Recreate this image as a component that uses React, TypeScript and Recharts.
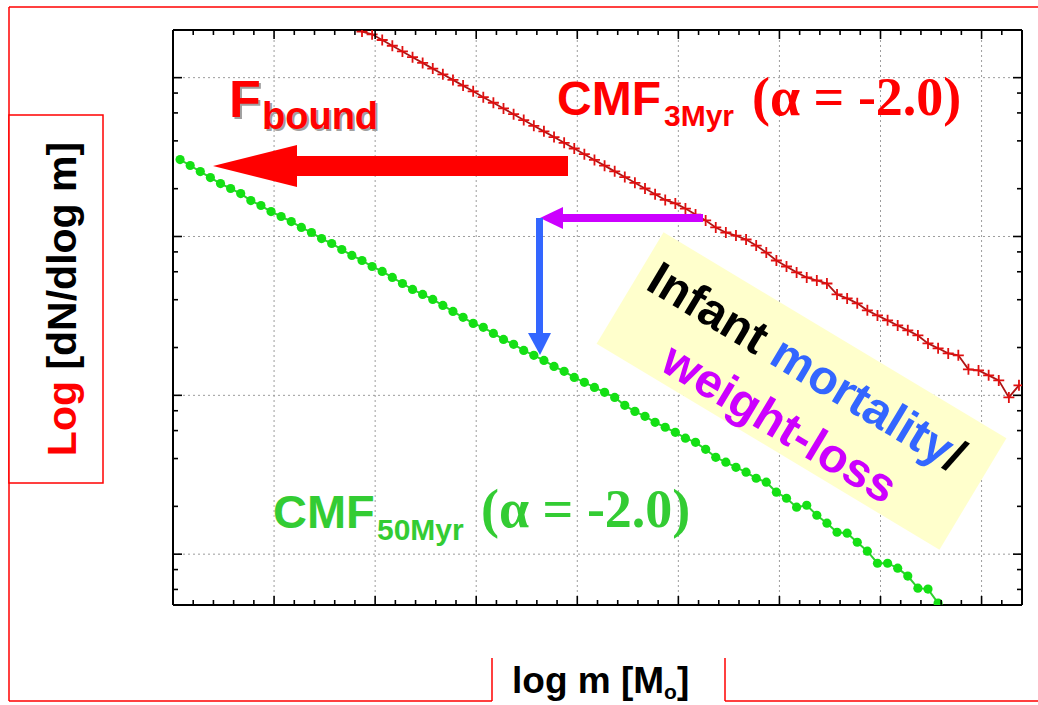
import React from 'react';
import { LineChart, Line, XAxis, YAxis, CartesianGrid } from 'recharts';

// log m bin centres shared by both mass functions
const LOG_M = [
  2.035, 2.085, 2.135, 2.185, 2.235, 2.285, 2.335, 2.385, 2.435, 2.485,
  2.535, 2.585, 2.635, 2.685, 2.735, 2.785, 2.835, 2.885, 2.935, 2.985,
  3.035, 3.085, 3.135, 3.185, 3.235, 3.285, 3.335, 3.385, 3.435, 3.485,
  3.535, 3.585, 3.635, 3.685, 3.735, 3.785, 3.835, 3.885, 3.935, 3.985,
  4.035, 4.085, 4.135, 4.185, 4.235, 4.285, 4.335, 4.385, 4.435, 4.485,
  4.535, 4.585, 4.635, 4.685, 4.735, 4.785, 4.835, 4.885, 4.935, 4.985,
  5.035, 5.085, 5.135, 5.185, 5.235, 5.285, 5.335, 5.385, 5.435, 5.485,
  5.535, 5.585, 5.635, 5.685, 5.735, 5.785, 5.835, 5.885, 5.935, 5.985,
  6.035, 6.085, 6.135, 6.185,
];

// log dN/dlog m at 50 Myr, starting from the first bin
const CMF_50MYR = [
  2.484, 2.447, 2.409, 2.371, 2.333, 2.302, 2.270, 2.226, 2.195, 2.157,
  2.126, 2.094, 2.057, 2.025, 1.987, 1.956, 1.918, 1.881, 1.849, 1.811,
  1.780, 1.742, 1.704, 1.667, 1.635, 1.604, 1.566, 1.528, 1.491, 1.453,
  1.428, 1.390, 1.352, 1.321, 1.283, 1.252, 1.220, 1.182, 1.151, 1.113,
  1.082, 1.050, 1.019, 0.987, 0.937, 0.899, 0.868, 0.830, 0.799, 0.767,
  0.730, 0.704, 0.660, 0.610, 0.579, 0.547, 0.516, 0.478, 0.453, 0.390,
  0.352, 0.296, 0.308, 0.245, 0.195, 0.138, 0.132, 0.075, 0.019, -0.057,
  -0.057, -0.088, -0.138, -0.214, -0.220, -0.308,
];

// log dN/dlog m at 3 Myr, starting from bin RED_START
const RED_START = 18;
const CMF_3MYR = [
  3.290, 3.273, 3.237, 3.201, 3.165, 3.129, 3.093, 3.057, 3.021, 2.986,
  2.950, 2.914, 2.877, 2.842, 2.806, 2.770, 2.733, 2.697, 2.662, 2.626,
  2.590, 2.554, 2.518, 2.482, 2.446, 2.410, 2.374, 2.338, 2.302, 2.266,
  2.230, 2.208, 2.176, 2.138, 2.101, 2.057, 2.025, 2.006, 1.981, 1.943,
  1.899, 1.849, 1.811, 1.774, 1.742, 1.723, 1.704, 1.635, 1.610, 1.579,
  1.535, 1.503, 1.472, 1.440, 1.409, 1.377, 1.327, 1.296, 1.264, 1.252,
  1.164, 1.157, 1.126, 1.094, 0.987, 1.063,
];

const X_MAJOR = [2.5, 3, 3.5, 4, 4.5, 5, 5.5, 6];
const X_MINOR = [
  2.1, 2.2, 2.3, 2.4, 2.6, 2.7, 2.8, 2.9, 3.1, 3.2, 3.3, 3.4, 3.6, 3.7, 3.8, 3.9,
  4.1, 4.2, 4.3, 4.4, 4.6, 4.7, 4.8, 4.9, 5.1, 5.2, 5.3, 5.4, 5.6, 5.7, 5.8, 5.9, 6.1,
];
const Y_MAJOR = [0, 1, 2, 3];
// 2, 4, 6, 8 x 10^k on the log axis
const Y_MINOR = [
  -0.222, -0.097, 0.301, 0.602, 0.778, 0.903, 1.301, 1.602, 1.778, 1.903,
  2.301, 2.602, 2.778, 2.903,
];

const X_DOMAIN = [2, 6.2];
const Y_DOMAIN = [-0.32, 3.3];

const green = CMF_50MYR.map((v, i) => ({ m: LOG_M[i], v }));
const red = CMF_3MYR.map((v, i) => ({ m: LOG_M[i + RED_START], v }));

const SANS = '"Liberation Sans", Arial, sans-serif';
const SERIF = '"Liberation Serif", "Times New Roman", serif';

// inward-pointing frame ticks, longer on the majors
function FrameTick({ x, y, payload, side, majors }: any) {
  const len = majors.includes(payload.value) ? 9 : 5;
  let x2 = x;
  let y2 = y;
  if (side === 'left') x2 = x + len;
  if (side === 'right') x2 = x - len;
  if (side === 'bottom') y2 = y - len;
  if (side === 'top') y2 = y + len;
  return <line x1={x} y1={y} x2={x2} y2={y2} stroke="#000" strokeWidth={1.6} />;
}

const plusDot = (p: any) => (
  <path
    key={`p-${p.index}`}
    d={`M${p.cx - 5.5},${p.cy}H${p.cx + 5.5}M${p.cx},${p.cy - 5.5}V${p.cy + 5.5}`}
    stroke="#e01010"
    strokeWidth={1.8}
    fill="none"
  />
);

const frameLine = { stroke: '#000', strokeWidth: 2 };

// axes take 1px of room each so recharts still draws them
const axisCommon = {
  allowDataOverflow: true,
  interval: 0 as const,
  tickSize: 0,
  tickMargin: 0,
  axisLine: frameLine,
  tickLine: false,
};

export default function App() {
  return (
    <div style={{ position: 'absolute', left: 0, top: 0, width: 1038, height: 705, background: '#fff' }}>
      <LineChart width={1038} height={705} margin={{ top: 29, right: 15, bottom: 99, left: 172 }}>
        <CartesianGrid
          xAxisId="b"
          yAxisId="l"
          stroke="#9c9c9c"
          strokeDasharray="2 3"
          horizontalValues={Y_MAJOR}
          verticalValues={X_MAJOR}
        />
        <XAxis
          {...axisCommon}
          xAxisId="b"
          type="number"
          dataKey="m"
          domain={X_DOMAIN}
          ticks={[...X_MAJOR, ...X_MINOR]}
          height={1}
          tick={(p: any) => <FrameTick {...p} side="bottom" majors={X_MAJOR} />}
        />
        <XAxis
          {...axisCommon}
          xAxisId="t"
          orientation="top"
          type="number"
          dataKey="m"
          domain={X_DOMAIN}
          ticks={[...X_MAJOR, ...X_MINOR]}
          height={1}
          tick={(p: any) => <FrameTick {...p} side="top" majors={X_MAJOR} />}
        />
        <YAxis
          {...axisCommon}
          yAxisId="l"
          type="number"
          domain={Y_DOMAIN}
          ticks={[...Y_MAJOR, ...Y_MINOR]}
          width={1}
          tick={(p: any) => <FrameTick {...p} side="left" majors={Y_MAJOR} />}
        />
        <YAxis
          {...axisCommon}
          yAxisId="r"
          orientation="right"
          type="number"
          domain={Y_DOMAIN}
          ticks={[...Y_MAJOR, ...Y_MINOR]}
          width={1}
          tick={(p: any) => <FrameTick {...p} side="right" majors={Y_MAJOR} />}
        />
        <Line
          xAxisId="b"
          yAxisId="l"
          data={green}
          dataKey="v"
          type="linear"
          stroke="#30d030"
          strokeWidth={2}
          dot={{ r: 4.6, fill: '#14e014', stroke: 'none' }}
          isAnimationActive={false}
        />
        <Line
          xAxisId="b"
          yAxisId="l"
          data={red}
          dataKey="v"
          type="linear"
          stroke="#b01515"
          strokeWidth={1.8}
          dot={plusDot}
          isAnimationActive={false}
        />
      </LineChart>

      <svg
        width={1038}
        height={705}
        style={{ position: 'absolute', left: 0, top: 0, pointerEvents: 'none' }}
        fontFamily={SANS}
        fontWeight="bold"
      >
        {/* outer frame, broken where the x label sits */}
        <g stroke="#ff0000" strokeWidth={1.5} fill="none">
          <line x1={9} y1={7} x2={1038} y2={7} />
          <line x1={9} y1={7} x2={9} y2={701} />
          <line x1={9} y1={701} x2={492} y2={701} />
          <line x1={725} y1={701} x2={1038} y2={701} />
          <line x1={492} y1={658} x2={492} y2={701} />
          <line x1={725} y1={658} x2={725} y2={701} />
        </g>

        {/* y label box */}
        <rect x={9} y={115} width={94} height={368} fill="#fff" stroke="#ff0000" strokeWidth={1.5} />
        <text transform="translate(76,299) rotate(-90)" textAnchor="middle" fontSize={41}>
          <tspan fill="#ff0000">Log</tspan>
          <tspan fill="#000"> [dN/dlog m]</tspan>
        </text>

        {/* x label */}
        <text x={512} y={693} fontSize={37} fill="#000">
          log m [M<tspan fontSize={21} dy={6}>o</tspan>
          <tspan dy={-6}>]</tspan>
        </text>

        {/* F_bound with its shadow and arrow */}
        <g fill="#a0a0a0">
          <text x={231} y={119} fontSize={52}>F</text>
          <text x={264} y={131} fontSize={38}>bound</text>
        </g>
        <g fill="#ff0000">
          <text x={229} y={117} fontSize={52}>F</text>
          <text x={262} y={129} fontSize={38}>bound</text>
        </g>
        <polygon
          points="213,166 297,145 297,156 568,156 568,176 297,176 297,187"
          fill="#ff0000"
        />

        {/* CMF 3 Myr */}
        <g fill="#ff0000">
          <text x={557} y={115} fontSize={48}>CMF</text>
          <text x={664} y={126} fontSize={30}>3Myr</text>
          <text x={752} y={115} fontSize={54} fontFamily={SERIF}>(α = -2.0)</text>
        </g>

        {/* CMF 50 Myr */}
        <g fill="#33cc33">
          <text x={273} y={528} fontSize={47}>CMF</text>
          <text x={377} y={540} fontSize={30}>50Myr</text>
          <text x={481} y={527} fontSize={54} fontFamily={SERIF}>(α = -2.0)</text>
        </g>

        {/* weight-loss arrow then infant-mortality arrow */}
        <rect x={560} y={214} width={143} height={8} fill="#cc00ff" />
        <polygon points="540,218 563,207 563,229" fill="#cc00ff" />
        <rect x={536} y={218} width={7} height={117} fill="#3366ff" />
        <polygon points="528,333 551,333 540,355" fill="#3366ff" />

        {/* rotated note */}
        <g transform="translate(801.5,391) rotate(31)">
          <rect x={-200} y={-65} width={400} height={130} fill="#ffffcc" />
          <text x={-8} y={-7} textAnchor="middle" fontSize={48}>
            <tspan fill="#000">Infant </tspan>
            <tspan fill="#3366ff">mortality</tspan>
            <tspan fill="#000">/</tspan>
          </text>
          <text x={-2} y={55} textAnchor="middle" fontSize={48} fill="#cc00ff">
            weight-loss
          </text>
        </g>
      </svg>
    </div>
  );
}
